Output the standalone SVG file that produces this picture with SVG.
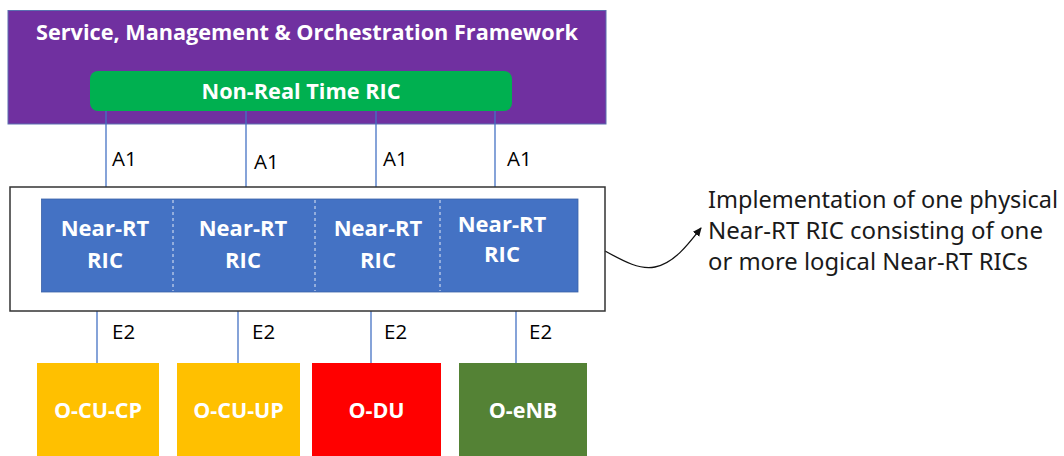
<svg xmlns="http://www.w3.org/2000/svg" width="1064" height="456" viewBox="0 0 1064 456">
<style>
.bw{font-family:"Open Sans","Liberation Sans",Arial,sans-serif;font-weight:bold;fill:#fff;text-anchor:middle}
.lbl{font-family:"Open Sans","Liberation Sans",Arial,sans-serif;font-size:20.5px;fill:#000}
.ann{font-family:"Noto Sans","Liberation Sans",sans-serif;font-size:23.5px;fill:#1a1a1a}
.link{stroke:#4472C4;stroke-width:1.3;fill:none}
.div{stroke:#fff;stroke-width:1;stroke-dasharray:3,3;opacity:0.85}
</style>
<defs>
<marker id="ah" markerWidth="10" markerHeight="10" refX="8" refY="5" orient="auto" markerUnits="userSpaceOnUse">
<path d="M0,1 L9,5 L0,9 Z" fill="#111"/>
</marker>
</defs>
<rect width="1064" height="456" fill="#fff"/>
<g id="smo">
<rect x="8" y="10.5" width="598" height="113.5" fill="#7030A0" stroke="#5a6fb0" stroke-width="1"/>
<text class="bw" x="307" y="40" font-size="21.5" textLength="542" lengthAdjust="spacingAndGlyphs">Service, Management &amp; Orchestration Framework</text>
</g>
<g id="nonrt">
<rect x="90" y="71" width="422" height="40" rx="8" fill="#00B050"/>
<text class="bw" x="301" y="99" font-size="21.5" textLength="199" lengthAdjust="spacingAndGlyphs">Non-Real Time RIC</text>
</g>
<g id="connectors">
<line class="link" x1="106" y1="111" x2="106" y2="187"/>
<line class="link" x1="246" y1="111" x2="246" y2="187"/>
<line class="link" x1="376" y1="111" x2="376" y2="187"/>
<line class="link" x1="495" y1="111" x2="495" y2="187"/>
<line class="link" x1="97" y1="311" x2="97" y2="363"/>
<line class="link" x1="238" y1="311" x2="238" y2="363"/>
<line class="link" x1="371" y1="311" x2="371" y2="363"/>
<line class="link" x1="516" y1="311" x2="516" y2="363"/>
<text class="lbl" x="112" y="166">A1</text>
<text class="lbl" x="254" y="169">A1</text>
<text class="lbl" x="383" y="166">A1</text>
<text class="lbl" x="507" y="166">A1</text>
<text class="lbl" x="112" y="339">E2</text>
<text class="lbl" x="252" y="339">E2</text>
<text class="lbl" x="384" y="339">E2</text>
<text class="lbl" x="529" y="339">E2</text>
<path d="M605,251 C625,262 640,270 655,267 C675,263 690,242 701,228" fill="none" stroke="#111" stroke-width="1.3" marker-end="url(#ah)"/>
</g>
<g id="nearrt-container">
<rect x="10" y="187" width="595" height="124" fill="none" stroke="#333" stroke-width="1.5"/>
</g>
<g id="nearrt">
<rect x="41.5" y="199" width="536.5" height="93" fill="#4472C4" stroke="#3a62a8" stroke-width="0.8"/>
<line class="div" x1="173" y1="200" x2="173" y2="291"/>
<line class="div" x1="315" y1="200" x2="315" y2="291"/>
<line class="div" x1="440" y1="200" x2="440" y2="291"/>
<text class="bw" font-size="22"><tspan x="105" y="236">Near-RT</tspan><tspan x="105" y="268">RIC</tspan></text>
<text class="bw" font-size="22"><tspan x="243" y="236">Near-RT</tspan><tspan x="243" y="268">RIC</tspan></text>
<text class="bw" font-size="22"><tspan x="378" y="236">Near-RT</tspan><tspan x="378" y="268">RIC</tspan></text>
<text class="bw" font-size="22"><tspan x="502" y="232">Near-RT</tspan><tspan x="502" y="262">RIC</tspan></text>
</g>
<g id="annotation">
<text class="ann" x="708" y="208" textLength="350" lengthAdjust="spacingAndGlyphs">Implementation of one physical</text>
<text class="ann" x="708" y="239" textLength="335" lengthAdjust="spacingAndGlyphs">Near-RT RIC consisting of one</text>
<text class="ann" x="708" y="270" textLength="320" lengthAdjust="spacingAndGlyphs">or more logical Near-RT RICs</text>
</g>
<g id="ocucp">
<rect x="37" y="363" width="122" height="100" fill="#FFC000"/>
<text class="bw" x="98" y="418" font-size="21.5">O-CU-CP</text>
</g>
<g id="ocuup">
<rect x="177" y="363" width="123" height="100" fill="#FFC000"/>
<text class="bw" x="238.5" y="418" font-size="21.5">O-CU-UP</text>
</g>
<g id="odu">
<rect x="312" y="363" width="129" height="100" fill="#FF0000"/>
<text class="bw" x="376.5" y="418" font-size="21.5">O-DU</text>
</g>
<g id="oenb">
<rect x="459" y="363" width="128" height="100" fill="#548235"/>
<text class="bw" x="523" y="418" font-size="21.5">O-eNB</text>
</g>
</svg>
